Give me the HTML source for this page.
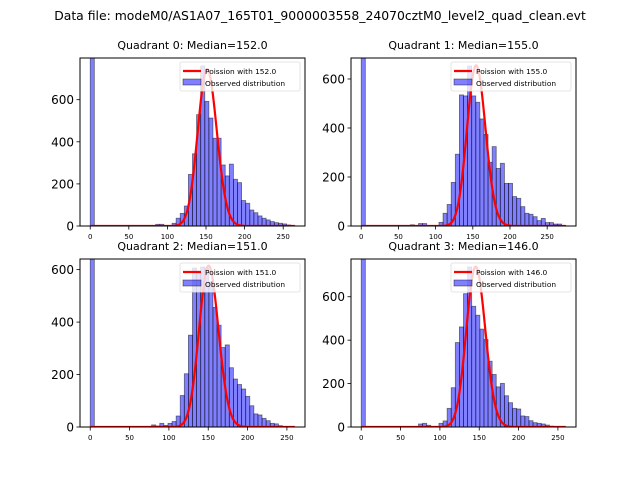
<!DOCTYPE html>
<html><head><meta charset="utf-8"><style>
body{margin:0;background:#fff;}
svg{display:block;font-family:"DejaVu Sans","Liberation Sans",sans-serif;}
</style></head><body>
<svg id="fig" width="640" height="480" viewBox="0 0 640 480">
<rect width="640" height="480" fill="#fff"/>
<text x="320" y="20" text-anchor="middle" font-size="12.4">Data file: modeM0/AS1A07_165T01_9000003558_24070cztM0_level2_quad_clean.evt</text>
</svg>
<script>
const q0Counts=[2000,0,0,0,0,0,0,0,0,0,0,0,0,0,0,0,8,8,0,3,13,37,60,95,245,343,529,760,592,513,417,417,290,238,294,222,206,121,108,76,63,48,37,29,21,16,13,10,5,2];
const q1Counts=[2000,0,0,0,0,0,0,0,0,0,0,0,5,0,10,10,0,0,0,15,52,88,178,293,535,531,653,531,505,437,374,260,324,235,256,174,174,120,113,79,52,48,38,22,31,14,14,8,8,2];
const q2Counts=[2000,0,0,0,0,0,0,0,0,0,0,0,0,0,0,8,4,14,6,14,21,42,120,203,350,606,585,610,606,553,456,388,303,313,226,183,162,145,117,81,50,46,33,24,14,12,5,2,0,1];
const q3Counts=[2000,0,0,0,0,0,0,0,0,0,0,0,0,0,14,17,8,0,3,17,28,86,181,389,461,614,737,556,515,451,403,303,242,185,201,144,112,86,83,51,48,29,20,17,14,9,4,1,0,0];
const maxValues=[265,275,260,260];
const medians=[152.0,155.0,151.0,146.0];
const poissonPeaks=[745,655,615,738];
const xTicks=[0,50,100,150,200,250];
const yTicks=[0,200,400,600];
const allCounts=[q0Counts,q1Counts,q2Counts,q3Counts];

const NS="http://www.w3.org/2000/svg";
const svg=document.getElementById('fig');
const boxes=[[80,58,225,168],[351,58,225,168],[80,259,225,168],[351,259,225,168]];
function mk(tag,attrs,parent){const e=document.createElementNS(NS,tag);for(const k in attrs)e.setAttribute(k,attrs[k]);(parent||svg).appendChild(e);return e;}
function logGamma(z){return (z-0.5)*Math.log(z)-z+0.5*Math.log(2*Math.PI)+1/(12*z)-1/(360*z*z*z);}

for(let q=0;q<4;q++){
  const [L,T,W,H]=boxes[q];
  const counts=allCounts[q];
  const xmax=maxValues[q];
  const bw=xmax/counts.length;
  const x0=-0.05*xmax,x1=1.05*xmax;
  const ymax=1.05*Math.max(...counts.slice(1));
  const sx=v=>L+(v-x0)/(x1-x0)*W;
  const sy=v=>T+H-v/ymax*H;
  const g=mk('g',{});
  
  
  const t=mk('text',{x:L+W/2,y:T-9,'text-anchor':'middle','font-size':'11'},g);
  t.textContent='Quadrant '+q+': Median='+medians[q].toFixed(1);
  
  
  const clip=mk('clipPath',{id:'c'+q},g);
  mk('rect',{x:L,y:T,width:W,height:H},clip);
  const bars=mk('g',{'clip-path':'url(#c'+q+')'},g);
  counts.forEach((c,i)=>{
    if(c<=0)return;
    const xa=sx(i*bw),xb=sx((i+1)*bw);
    const r=mk('rect',{x:xa,y:sy(c),width:xb-xa,height:sy(0)-sy(c),fill:'rgba(0,0,255,0.5)',stroke:'rgba(0,0,0,0.5)','stroke-width':'0.8'},bars);
    
    
  });
  const mu=medians[q];let pts=[];
  const lpPeak=Math.floor(mu)*Math.log(mu)-mu-logGamma(Math.floor(mu)+1);
  for(let k=0;k<=xmax;k++){
    let lp=k*Math.log(mu)-mu-(k<1?0:logGamma(k+1));
    let v=poissonPeaks[q]*Math.exp(lp-lpPeak);
    pts.push(sx(k).toFixed(2)+','+sy(v).toFixed(2));
  }
  const pl=mk('polyline',{points:pts.join(' '),fill:'none',stroke:'#ff0000','stroke-width':'2.2'},bars);
  
  
  mk('rect',{x:L,y:T,width:W,height:H,fill:'none',stroke:'#000','stroke-width':'1'},g);
  xTicks.forEach(v=>{
    const x=sx(v);
    mk('line',{x1:x,y1:T+H,x2:x,y2:T+H+3.5,stroke:'#000','stroke-width':'0.8'},g);
    const tx=mk('text',{x:x,y:T+H+13,'text-anchor':'middle','font-size':'7'},g);
    tx.textContent=v;
    
    
  });
  yTicks.forEach(v=>{
    if(v>ymax)return;
    const y=sy(v);
    mk('line',{x1:L,y1:y,x2:L-3.5,y2:y,stroke:'#000','stroke-width':'0.8'},g);
    const ty=mk('text',{x:L-6,y:y+4.5,'text-anchor':'end','font-size':'12'},g);
    ty.textContent=v;
    
    
  });
  const lg=mk('g',{},g);
  
  
  const lx=L+W-125,ly=T+4;
  mk('rect',{x:lx,y:ly,width:120,height:29,fill:'rgba(255,255,255,0.8)',stroke:'#ddd','stroke-width':'0.8',rx:2},lg);
  mk('line',{x1:lx+3,y1:ly+9,x2:lx+21,y2:ly+9,stroke:'#ff0000','stroke-width':'2.2'},lg);
  const t1=mk('text',{x:lx+25,y:ly+12,'font-size':'7.4'},lg);
  t1.textContent='Poission with '+medians[q].toFixed(1);
  
  
  mk('rect',{x:lx+3,y:ly+17,width:18,height:6,fill:'rgba(0,0,255,0.5)',stroke:'rgba(0,0,0,0.5)','stroke-width':'0.8'},lg);
  const t2=mk('text',{x:lx+25,y:ly+24,'font-size':'7.4'},lg);
  t2.textContent='Observed distribution';
  
  
}
</script>
</body></html>
